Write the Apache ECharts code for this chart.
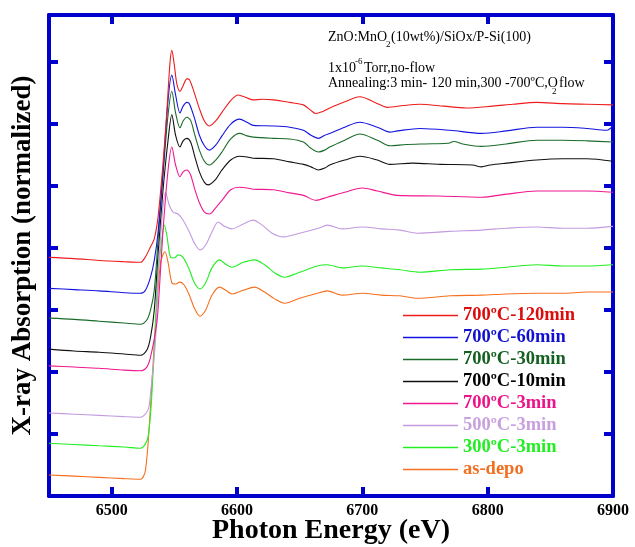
<!DOCTYPE html>
<html>
<head>
<meta charset="utf-8">
<script src="https://cdn.jsdelivr.net/npm/echarts@6/dist/echarts.min.js"></script>
<style>
  html, body { margin: 0; padding: 0; background: #fff; }
  #xanes { width: 635px; height: 547px; }
</style>
</head>
<body>
<div id="xanes"></div>
<script>
// photon energy (eV) / normalized absorption, stacked with offsets as in the figure
const red120 = [[6450,3.85],[6470,3.83],[6490,3.80],[6510,3.78],[6523,3.77],[6527,3.86],[6531,4.02],[6534,4.15],[6537,4.5],[6541,5.37],[6544,6.2],[6546.5,6.98],[6548,7.19],[6550,6.95],[6552,6.65],[6554.5,6.53],[6557,6.62],[6560,6.73],[6562,6.72],[6566,6.5],[6570,6.25],[6574,6.05],[6578,5.97],[6583,6.05],[6588,6.19],[6595,6.38],[6601,6.47],[6607,6.43],[6613,6.39],[6620,6.40],[6629,6.39],[6642,6.35],[6653,6.31],[6659,6.22],[6663,6.17],[6668,6.2],[6674,6.26],[6686,6.36],[6698,6.44],[6710,6.35],[6720,6.27],[6733,6.3],[6746,6.32],[6765,6.29],[6783,6.26],[6804,6.29],[6820,6.32],[6839,6.35],[6860,6.33],[6879,6.32],[6900,6.31]];
const blue60 = [[6450,3.35],[6470,3.33],[6490,3.31],[6510,3.28],[6523,3.27],[6527,3.32],[6531,3.53],[6534,3.8],[6537,4.25],[6541,5.26],[6545,6.39],[6548,6.79],[6551,6.47],[6554.5,6.18],[6557,6.29],[6560,6.35],[6562,6.33],[6566,6.1],[6570,5.82],[6574,5.65],[6578,5.58],[6583,5.66],[6588,5.81],[6595,6.0],[6602,6.08],[6608,6.03],[6613,5.98],[6629,5.97],[6642,5.95],[6653,5.9],[6659,5.82],[6665,5.77],[6670,5.82],[6674,5.85],[6686,5.95],[6698,6.03],[6712,5.95],[6722,5.87],[6728,5.89],[6746,5.93],[6770,5.9],[6795,5.85],[6815,5.89],[6839,5.95],[6860,5.95],[6879,5.93],[6895,5.9],[6900,5.97]];
const dkgreen30 = [[6450,2.87],[6470,2.85],[6490,2.82],[6510,2.79],[6523,2.77],[6528,2.84],[6531,3.0],[6534,3.32],[6537,4.13],[6541,5.18],[6545,6.15],[6548,6.53],[6551,6.18],[6554.5,5.94],[6557,6.05],[6560,6.11],[6563,6.06],[6566,5.85],[6570,5.58],[6574,5.4],[6578,5.34],[6583,5.42],[6588,5.55],[6595,5.76],[6602,5.85],[6608,5.81],[6613,5.79],[6629,5.77],[6642,5.76],[6653,5.71],[6659,5.61],[6665,5.55],[6670,5.58],[6674,5.63],[6686,5.74],[6698,5.84],[6712,5.74],[6722,5.65],[6735,5.67],[6750,5.68],[6768,5.69],[6773,5.72],[6780,5.68],[6795,5.64],[6815,5.68],[6839,5.74],[6860,5.74],[6879,5.73],[6900,5.71]];
const black10 = [[6450,2.37],[6470,2.34],[6490,2.32],[6510,2.29],[6523,2.27],[6528,2.35],[6531,2.56],[6534,3.0],[6537,3.9],[6541,4.94],[6545,5.74],[6548,6.15],[6551,5.82],[6554.5,5.63],[6557,5.73],[6560,5.77],[6563,5.71],[6566,5.5],[6570,5.23],[6574,5.06],[6577,5.02],[6583,5.11],[6588,5.26],[6595,5.42],[6602,5.48],[6608,5.47],[6613,5.45],[6629,5.44],[6642,5.39],[6653,5.35],[6659,5.31],[6665,5.26],[6670,5.29],[6674,5.34],[6686,5.42],[6698,5.48],[6712,5.42],[6722,5.35],[6740,5.37],[6762,5.35],[6788,5.34],[6795,5.31],[6802,5.34],[6815,5.37],[6839,5.42],[6860,5.44],[6879,5.44],[6900,5.40]];
const pink3 = [[6450,2.10],[6470,2.08],[6490,2.06],[6510,2.03],[6523,2.02],[6528,2.08],[6531,2.24],[6536,2.79],[6538,3.32],[6541,4.29],[6545,5.26],[6548,5.63],[6551,5.34],[6554.5,5.15],[6557,5.23],[6560,5.26],[6563,5.18],[6566,4.97],[6570,4.73],[6574,4.58],[6578,4.55],[6583,4.65],[6588,4.77],[6595,4.94],[6602,4.98],[6608,4.97],[6613,4.95],[6629,4.94],[6642,4.89],[6653,4.85],[6663,4.77],[6672,4.82],[6686,4.9],[6700,4.97],[6712,4.92],[6728,4.85],[6760,4.84],[6795,4.82],[6815,4.87],[6839,4.92],[6860,4.92],[6879,4.92],[6900,4.90]];
const lilac500 = [[6450,1.34],[6470,1.32],[6490,1.30],[6510,1.28],[6523,1.27],[6529,1.39],[6531,1.66],[6535,2.52],[6537,3.48],[6540,4.45],[6543,4.9],[6546,4.69],[6549,4.58],[6553,4.55],[6557,4.45],[6562,4.26],[6566,4.08],[6570.5,3.97],[6575,4.05],[6580,4.26],[6585,4.42],[6590,4.35],[6596,4.31],[6605,4.39],[6613,4.45],[6620,4.37],[6628,4.24],[6637,4.18],[6650,4.24],[6665,4.32],[6672,4.37],[6684,4.31],[6700,4.34],[6715,4.31],[6730,4.29],[6744,4.24],[6770,4.27],[6795,4.29],[6815,4.32],[6839,4.34],[6860,4.32],[6879,4.32],[6900,4.35]];
const green300 = [[6450,0.85],[6470,0.83],[6490,0.81],[6510,0.79],[6523,0.77],[6529,0.95],[6533,1.98],[6537,3.6],[6540,4.13],[6542,4.37],[6544,4.21],[6547,3.85],[6550,3.84],[6553,3.89],[6557,3.85],[6562,3.65],[6566,3.44],[6570.5,3.34],[6575,3.44],[6580,3.68],[6586,3.81],[6591,3.74],[6596,3.69],[6605,3.77],[6614,3.81],[6622,3.73],[6630,3.6],[6638,3.53],[6650,3.61],[6664,3.71],[6672,3.73],[6684,3.68],[6700,3.71],[6715,3.68],[6730,3.65],[6746,3.61],[6770,3.65],[6795,3.66],[6815,3.69],[6839,3.73],[6860,3.71],[6879,3.71],[6900,3.73]];
const asDepo = [[6450,0.34],[6470,0.32],[6490,0.30],[6510,0.28],[6523,0.27],[6527,0.42],[6531,1.44],[6535,2.79],[6539,3.76],[6542.5,3.94],[6545,3.77],[6548,3.44],[6551,3.42],[6554.5,3.45],[6558,3.40],[6562,3.24],[6566,3.03],[6570.5,2.90],[6575,3.0],[6580,3.24],[6586,3.37],[6591,3.32],[6596,3.26],[6605,3.32],[6614,3.37],[6622,3.29],[6630,3.18],[6638,3.11],[6650,3.19],[6664,3.27],[6672,3.31],[6684,3.24],[6700,3.27],[6715,3.24],[6730,3.23],[6744,3.19],[6770,3.23],[6795,3.24],[6815,3.26],[6839,3.27],[6860,3.27],[6879,3.29],[6900,3.29]];

const sampleNames = ['700ºC-120min', '700ºC-60min', '700ºC-30min', '700ºC-10min', '700ºC-3min', '500ºC-3min', '300ºC-3min', 'as-depo'];
const sampleData = [red120, blue60, dkgreen30, black10, pink3, lilac500, green300, asDepo];
const lineColors = ['#ee1c1c', '#1414e0', '#1a6b2a', '#111111', '#f01890', '#c39be0', '#22ee22', '#f5701e'];
const textColors = ['#dd0c0c', '#1010d0', '#146020', '#000000', '#ee1188', '#c8a0e0', '#22ee22', '#f07020'];

const axisBlue = '#0000cc';
const serif = '"Liberation Serif", "Times New Roman", serif';

const chart = echarts.init(document.getElementById('xanes'));

const frameAxis = (pos, extra) => Object.assign({
    type: 'value',
    position: pos,
    axisLine: { show: true, onZero: false, lineStyle: { color: axisBlue, width: 4 } },
    axisTick: { show: true, inside: true, length: 9, lineStyle: { color: axisBlue, width: 4 } },
    axisLabel: { show: false },
    splitLine: { show: false }
}, extra);

const option = {
    animation: false,
    backgroundColor: '#fff',
    grid: { left: 49, right: 22, top: 15, bottom: 51, outerBoundsMode: 'none' },
    xAxis: [
        frameAxis('bottom', {
            min: 6450, max: 6900, splitNumber: 5,
            axisLabel: { show: true, showMinLabel: false, color: '#000', fontFamily: serif, fontWeight: 'bold', fontSize: 16, margin: 7, formatter: v => String(v) },
            name: 'Photon Energy (eV)', nameLocation: 'middle', nameGap: 21, nameMoveOverlap: false,
            nameTextStyle: { color: '#000', fontFamily: serif, fontWeight: 'bold', fontSize: 28 }
        }),
        frameAxis('top', { min: 6450, max: 6900, splitNumber: 5 })
    ],
    yAxis: [
        frameAxis('left', {
            min: 0, max: 7.76, interval: 1,
            name: 'X-ray Absorption (normalized)', nameLocation: 'middle', nameGap: 12, nameMoveOverlap: false,
            nameTextStyle: { color: '#000', fontFamily: serif, fontWeight: 'bold', fontSize: 27 }
        }),
        frameAxis('right', { min: 0, max: 7.76, interval: 1 })
    ],
    legend: {
        orient: 'vertical', left: 403, top: 306, padding: 0,
        icon: 'rect', itemWidth: 55, itemHeight: 1.5, itemGap: 3,
        textStyle: { fontFamily: serif, fontWeight: 'bold', fontSize: 18.5, lineHeight: 18 },
        data: sampleNames.map((n, i) => ({ name: n, textStyle: { color: textColors[i] } }))
    },
    graphic: [
        { type: 'text', x: 328, y: 37, style: { text: 'ZnO:MnO', font: '14px ' + serif, fill: '#000', verticalAlign: 'middle' } },
        { type: 'text', x: 386, y: 45, style: { text: '2', font: '9px ' + serif, fill: '#000', verticalAlign: 'middle' } },
        { type: 'text', x: 391, y: 37, style: { text: '(10wt%)/SiOx/P-Si(100)', font: '14px ' + serif, fill: '#000', verticalAlign: 'middle' } },
        { type: 'text', x: 328, y: 68, style: { text: '1x10', font: '14px ' + serif, fill: '#000', verticalAlign: 'middle' } },
        { type: 'text', x: 355, y: 62, style: { text: '-6', font: '9px ' + serif, fill: '#000', verticalAlign: 'middle' } },
        { type: 'text', x: 364, y: 68, style: { text: 'Torr,no-flow', font: '14px ' + serif, fill: '#000', verticalAlign: 'middle' } },
        { type: 'text', x: 328, y: 83, style: { text: 'Annealing:3 min- 120 min,300 -700ºC,O', font: '14px ' + serif, fill: '#000', verticalAlign: 'middle' } },
        { type: 'text', x: 552, y: 92, style: { text: '2', font: '9px ' + serif, fill: '#000', verticalAlign: 'middle' } },
        { type: 'text', x: 559, y: 83, style: { text: 'flow', font: '14px ' + serif, fill: '#000', verticalAlign: 'middle' } }
    ],
    series: sampleNames.map((n, i) => ({
        name: n,
        type: 'line',
        xAxisIndex: 0,
        yAxisIndex: 0,
        data: sampleData[i],
        showSymbol: false,
        smooth: 0.3,
        color: lineColors[i],
        lineStyle: { width: 1.1, color: lineColors[i] },
        z: 10 - i
    }))
};

chart.setOption(option);
</script>
</body>
</html>
